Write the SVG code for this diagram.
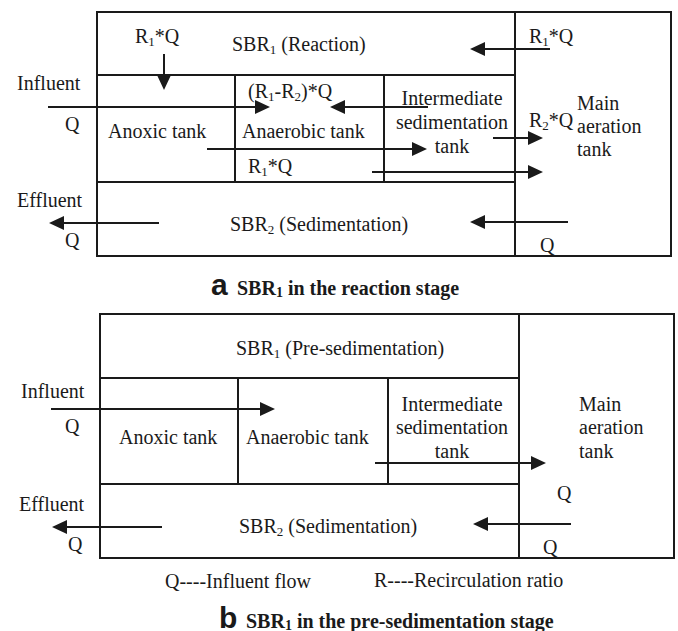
<svg xmlns="http://www.w3.org/2000/svg" width="678" height="631" viewBox="0 0 678 631">
<style>
.box{fill:none;stroke:#1a1a1a;stroke-width:2}
.t{font-family:"Liberation Serif","DejaVu Serif","Times New Roman",serif;font-weight:normal;font-style:normal;font-size:20px;fill:#1a1a1a}
.m{text-anchor:middle}
.cap{font-family:"Liberation Serif","DejaVu Serif","Times New Roman",serif;font-size:20px;font-weight:bold;fill:#1a1a1a}
.capl{font-family:"Liberation Sans",Arial,sans-serif;font-size:30px;font-weight:bold;fill:#1a1a1a}
.ar{stroke:#1a1a1a;stroke-width:2;fill:none;marker-end:url(#ah)}
</style>
<defs>
<marker id="ah" markerUnits="userSpaceOnUse" markerWidth="15" markerHeight="14" viewBox="0 0 15 14" refX="13" refY="7" orient="auto">
<path d="M0,0 L15,7 L0,14 z" fill="#1a1a1a"/>
</marker>
</defs>

<!-- Diagram a -->
<g id="a-sbr1"><rect class="box" x="97" y="12" width="418" height="63"/>
<text class="t" x="232" y="51">SBR<tspan font-size="13" dy="3">1</tspan><tspan dy="-3"> (Reaction)</tspan></text></g>
<g id="a-anoxic"><rect class="box" x="97" y="75" width="138" height="107"/>
<text class="t" x="108" y="138">Anoxic tank</text></g>
<g id="a-anaerobic"><rect class="box" x="235" y="75" width="149" height="107"/>
<text class="t" x="242" y="138">Anaerobic tank</text></g>
<g id="a-intermediate"><rect class="box" x="384" y="75" width="131" height="107"/>
<text class="t m" x="452" y="105">Intermediate</text>
<text class="t m" x="452" y="129">sedimentation</text>
<text class="t m" x="452" y="153">tank</text></g>
<g id="a-sbr2"><rect class="box" x="97" y="182" width="418" height="74"/>
<text class="t" x="230" y="231">SBR<tspan font-size="13" dy="3">2</tspan><tspan dy="-3"> (Sedimentation)</tspan></text></g>
<g id="a-main"><rect class="box" x="515" y="12" width="156" height="244"/>
<text class="t" x="577" y="110">Main</text>
<text class="t" x="577" y="133">aeration</text>
<text class="t" x="577" y="156">tank</text></g>

<g id="a-connectors">
<line class="ar" x1="164" y1="54" x2="164" y2="88"/>
<line class="ar" x1="48" y1="107" x2="268" y2="107"/>
<line class="ar" x1="428" y1="107" x2="332" y2="107"/>
<line class="ar" x1="207" y1="149" x2="425" y2="149"/>
<line class="ar" x1="372" y1="172" x2="541" y2="172"/>
<line class="ar" x1="493" y1="138" x2="541" y2="138"/>
<line class="ar" x1="550" y1="49" x2="472" y2="49"/>
<line class="ar" x1="159" y1="223" x2="51" y2="223"/>
<line class="ar" x1="568" y1="222" x2="472" y2="222"/>
</g>
<g id="a-labels">
<text class="t" x="135" y="43">R<tspan font-size="13" dy="3">1</tspan><tspan dy="-3">*Q</tspan></text>
<text class="t" x="529" y="43">R<tspan font-size="13" dy="3">1</tspan><tspan dy="-3">*Q</tspan></text>
<text class="t" x="17" y="90">Influent</text>
<text class="t" x="65" y="131">Q</text>
<text class="t" x="248" y="98">(R<tspan font-size="13" dy="3">1</tspan><tspan dy="-3">-R</tspan><tspan font-size="13" dy="3">2</tspan><tspan dy="-3">)*Q</tspan></text>
<text class="t" x="248" y="173">R<tspan font-size="13" dy="3">1</tspan><tspan dy="-3">*Q</tspan></text>
<text class="t" x="529" y="127">R<tspan font-size="13" dy="3">2</tspan><tspan dy="-3">*Q</tspan></text>
<text class="t" x="17" y="207">Effluent</text>
<text class="t" x="65" y="247">Q</text>
<text class="t" x="540" y="252">Q</text>
</g>
<g id="a-caption">
<text class="capl" x="211" y="295">a</text>
<text class="cap" x="237" y="295">SBR<tspan font-size="14" dy="2">1</tspan><tspan dy="-2"> in the reaction stage</tspan></text>
</g>

<!-- Diagram b -->
<g id="b-sbr1"><rect class="box" x="100" y="314" width="419" height="64"/>
<text class="t" x="236" y="355">SBR<tspan font-size="13" dy="3">1</tspan><tspan dy="-3"> (Pre-sedimentation)</tspan></text></g>
<g id="b-anoxic"><rect class="box" x="100" y="378" width="138" height="106"/>
<text class="t" x="119" y="444">Anoxic tank</text></g>
<g id="b-anaerobic"><rect class="box" x="238" y="378" width="150" height="106"/>
<text class="t" x="246" y="444">Anaerobic tank</text></g>
<g id="b-intermediate"><rect class="box" x="388" y="378" width="131" height="106"/>
<text class="t m" x="452" y="411">Intermediate</text>
<text class="t m" x="452" y="434">sedimentation</text>
<text class="t m" x="452" y="458">tank</text></g>
<g id="b-sbr2"><rect class="box" x="100" y="484" width="419" height="74"/>
<text class="t" x="239" y="533">SBR<tspan font-size="13" dy="3">2</tspan><tspan dy="-3"> (Sedimentation)</tspan></text></g>
<g id="b-main"><rect class="box" x="519" y="314" width="155" height="244"/>
<text class="t" x="579" y="411">Main</text>
<text class="t" x="579" y="434">aeration</text>
<text class="t" x="579" y="458">tank</text></g>

<g id="b-connectors">
<line class="ar" x1="51" y1="409" x2="273" y2="409"/>
<line class="ar" x1="375" y1="463" x2="544" y2="463"/>
<line class="ar" x1="162" y1="527" x2="54" y2="527"/>
<line class="ar" x1="571" y1="524" x2="475" y2="524"/>
</g>
<g id="b-labels">
<text class="t" x="21" y="398">Influent</text>
<text class="t" x="65" y="433">Q</text>
<text class="t" x="557" y="500">Q</text>
<text class="t" x="19" y="511">Effluent</text>
<text class="t" x="68" y="551">Q</text>
<text class="t" x="543" y="554">Q</text>
<text class="t" x="165" y="588">Q----Influent flow</text>
<text class="t" x="374" y="587">R----Recirculation ratio</text>
</g>
<g id="b-caption">
<text class="capl" x="219" y="628">b</text>
<text class="cap" x="246" y="628">SBR<tspan font-size="14" dy="2">1</tspan><tspan dy="-2"> in the pre-sedimentation stage</tspan></text>
</g>
</svg>
